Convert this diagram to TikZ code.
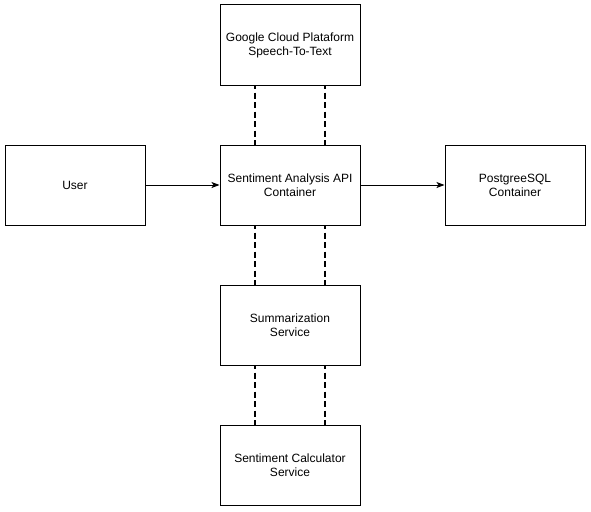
\documentclass[tikz,border=0pt]{standalone}
\usepackage{fontspec}
\setmainfont{Liberation Sans}
\usetikzlibrary{arrows.meta}
\begin{document}
\begin{tikzpicture}[x=1pt,y=-1pt,
  box/.style={draw=black,line width=1pt,minimum width=140pt,minimum height=80pt,inner sep=0pt,align=center,font=\fontsize{12}{14}\selectfont},
  link/.style={line width=2pt,dash pattern=on 6pt off 3.5pt,dash phase=-7pt},
  flow/.style={line width=1pt,-{Stealth[length=8pt,width=6pt,inset=2pt]}}]
\useasboundingbox (0,0) rectangle (591,511);
\node[box] (g) at (290,45) {Google Cloud Plataform\\Speech-To-Text};
\node[box] (u) at (75,185) {User};
\node[box] (api) at (290,185) {Sentiment Analysis API\\Container};
\node[box] (pg) at (515,185) {PostgreeSQL\\Container};
\node[box] (sum) at (290,325) {Summarization\\Service};
\node[box] (calc) at (290,465) {Sentiment Calculator\\Service};
\draw[flow] (u.east) -- (api.west);
\draw[flow] (api.east) -- (pg.west);
\foreach \a/\b in {g/api,api/sum,sum/calc}{
  \draw[link] ([xshift=-35pt]\a.south) -- ([xshift=-35pt]\b.north);
  \draw[link] ([xshift=35pt]\a.south) -- ([xshift=35pt]\b.north);
}
\end{tikzpicture}
\end{document}
